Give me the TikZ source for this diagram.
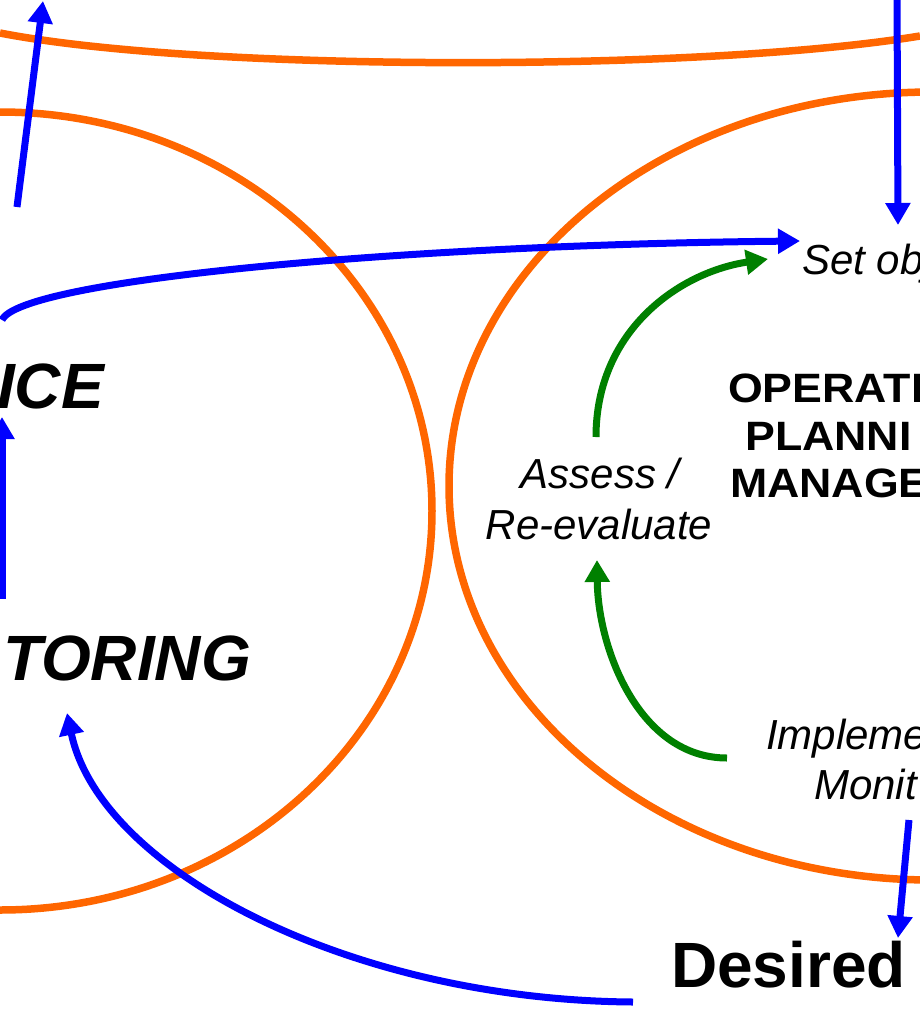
\documentclass[tikz,border=0pt]{standalone}
\usepackage{fontspec}
\usepackage{graphicx}
\setmainfont{Liberation Sans}
\usetikzlibrary{arrows.meta}
\definecolor{orng}{HTML}{FF6600}
\definecolor{blu}{HTML}{0000FF}
\definecolor{grn}{HTML}{008000}
\newcommand{\widetxt}[1]{\scalebox{1.09}[1]{#1}}
\tikzset{
  orangeline/.style={draw=orng, line width=7.5pt},
  bluearrow/.style={draw=blu, line width=7pt, -{Triangle[length=22pt,width=24pt]}},
  greenarrow/.style={draw=grn, line width=7pt, -{Triangle[length=22pt,width=24pt]}},
  itlabel/.style={inner sep=0pt, font=\fontsize{42}{50}\selectfont\itshape},
  bdlabel/.style={inner sep=0pt, font=\fontsize{41}{48}\selectfont\bfseries},
  biglabel/.style={inner sep=0pt, font=\fontsize{64}{70}\selectfont\bfseries\itshape},
  bigup/.style={inner sep=0pt, font=\fontsize{64}{70}\selectfont\bfseries}
}
\begin{document}
\begin{tikzpicture}[x=1pt,y=-1pt]
\useasboundingbox (0,0) rectangle (920,1013);
\clip (0,0) rectangle (920,1013);
\fill[white] (0,0) rectangle (920,1013);
% orange shapes
\draw[orangeline] (0,33) .. controls (200,72) and (700,72) .. (920,36);
\draw[orangeline] (0,511) ellipse [x radius=432pt, y radius=399pt];
\draw[orangeline] (932,486) ellipse [x radius=483pt, y radius=394pt];
% text
\node[biglabel, anchor=base east] (ice) at (104,408) {ICE};
\node[biglabel, anchor=base east] (toring) at (251,680) {TORING};
\node[itlabel, anchor=base west] (setobj) at (802,274) {Set obj};
\node[bdlabel, anchor=base west] (op1) at (728,402) {\widetxt{OPERATI}};
\node[bdlabel, anchor=base west] (op2) at (745,450) {\widetxt{PLANNI}};
\node[bdlabel, anchor=base west] (op3) at (730,497) {\widetxt{MANAGE}};
\node[itlabel, anchor=base] (as1) at (600,488) {Assess /};
\node[itlabel, anchor=base] (as2) at (599,539) {Re-evaluate};
\node[itlabel, anchor=base west] (im1) at (766,749) {Impleme};
\node[itlabel, anchor=base west] (im2) at (814,799) {Monit};
\node[bigup, anchor=base west] (desired) at (671,987) {Desired};
% coordinates for connectors
\coordinate (tlTail) at (17,207);
\coordinate (tlTip) at (43,1);
\coordinate (trTail) at (897,-5);
\coordinate (trTip) at (898,225);
\coordinate (bcStart) at (2,320);
\coordinate (bcTip) at (800,241);
\coordinate (lvTail) at (2,599);
\coordinate (lvTip) at (2,417);
\coordinate (bbStart) at (633,1002);
\coordinate (bbTip) at (67,713);
\coordinate (brTail) at (909,820);
\coordinate (brTip) at (898,938);
\coordinate (g1Start) at (596,437);
\coordinate (g1Tip) at (768,259);
\coordinate (g2Start) at (727,758);
\coordinate (g2Tip) at (597,560);
% blue arrows
\draw[bluearrow] (tlTail) -- (tlTip);
\draw[bluearrow] (trTail) -- (trTip);
\draw[bluearrow] (bcStart) .. controls (20,280) and (400,245) .. (bcTip);
\draw[bluearrow] (lvTail) -- (lvTip);
\draw[bluearrow] (bbStart) .. controls (350,1000) and (100,870) .. (bbTip);
\draw[bluearrow] (brTail) -- (brTip);
% green arrows
\draw[greenarrow] (g1Start) .. controls (596,330) and (680,272) .. (g1Tip);
\draw[greenarrow] (g2Start) .. controls (640,758) and (598,650) .. (g2Tip);
\end{tikzpicture}
\end{document}
